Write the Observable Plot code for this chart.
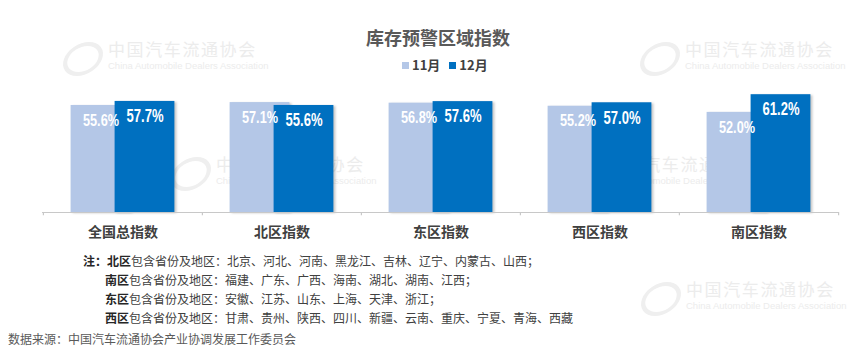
<!DOCTYPE html>
<html>
<head>
<meta charset="utf-8">
<script src="https://cdn.jsdelivr.net/npm/d3@7"></script>
<script src="https://cdn.jsdelivr.net/npm/@observablehq/plot@0.6"></script>
<style>
  html, body { margin: 0; padding: 0; background: #fff; }
  body { width: 865px; height: 354px; position: relative; overflow: hidden;
         font-family: "Noto Sans CJK SC", "Noto Sans", sans-serif; }
  .wm { position: absolute; color: #ececec; pointer-events: none; z-index: 0; }
  .wm .cn { font-size: 17px; letter-spacing: 1.6px; line-height: 18px; white-space: nowrap; }
  .wm .en { font-family: "Liberation Sans", Arial, sans-serif; font-size: 9.5px; line-height: 11px; margin-top: 2px; white-space: nowrap; }
  .wm .logo { position: absolute; left: -44px; top: 2px; width: 30px; height: 26px; border: 4px solid #efefef;
              border-radius: 50%; transform: skewX(-20deg); }
  #title { position: absolute; left: 0; width: 876px; top: 25px; text-align: center;
           font-size: 18px; font-weight: bold; color: #595959; z-index: 2; line-height: 24px; }
  #legend { position: absolute; left: 402px; top: 56px; font-size: 13px; font-weight: bold; color: #404040;
            z-index: 2; line-height: 18px; white-space: nowrap; }
  #legend .sw { display: inline-block; width: 7px; height: 7px; margin-right: 3px; vertical-align: 1px; }
  #chart { position: absolute; left: 0; top: 80px; z-index: 1; }
  .note { position: absolute; font-size: 12px; color: #404040; white-space: nowrap; line-height: 16px; z-index: 2; }
  .note b { color: #262626; }
  #source { position: absolute; left: 8px; top: 331px; font-size: 12px; color: #595959; white-space: nowrap; line-height: 16px; }
</style>
</head>
<body>
<div class="wm" style="left:108px;top:40px"><div class="logo"></div><div class="cn">中国汽车流通协会</div><div class="en">China Automobile Dealers Association</div></div>
<div class="wm" style="left:685px;top:40px"><div class="logo"></div><div class="cn">中国汽车流通协会</div><div class="en">China Automobile Dealers Association</div></div>
<div class="wm" style="left:216px;top:155px"><div class="logo"></div><div class="cn">中国汽车流通协会</div><div class="en">China Automobile Dealers Association</div></div>
<div class="wm" style="left:606px;top:155px"><div class="logo"></div><div class="cn">中国汽车流通协会</div><div class="en">China Automobile Dealers Association</div></div>
<div class="wm" style="left:686px;top:280px"><div class="logo"></div><div class="cn">中国汽车流通协会</div><div class="en">China Automobile Dealers Association</div></div>

<div id="title"></div>
<div id="legend"></div>
<div id="chart"></div>
<div id="notes"></div>
<div id="source"></div>

<script>
// ---- data ----
const title = "库存预警区域指数";
const seriesNames = ["11月", "12月"];
const categories = ["全国总指数", "北区指数", "东区指数", "西区指数", "南区指数"];
const nov = [55.6, 57.1, 56.8, 55.2, 52.0];
const dec = [57.7, 55.6, 57.6, 57.0, 61.2];
const noteRegions = ["北区", "南区", "东区", "西区"];
const noteProvinces = [
  "北京、河北、河南、黑龙江、吉林、辽宁、内蒙古、山西；",
  "福建、广东、广西、海南、湖北、湖南、江西；",
  "安徽、江苏、山东、上海、天津、浙江；",
  "甘肃、贵州、陕西、四川、新疆、云南、重庆、宁夏、青海、西藏"
];
const sourceText = "数据来源：中国汽车流通协会产业协调发展工作委员会";

// ---- styles ----
const colors = ["#B4C7E7", "#0070C0"];
const W = 865, H = 170;
const mL = 42, mR = 27, mT = 0, mB = 38;
const bw = (W - mL - mR) / categories.length;
const barW = 60, off = 22;

const rowsNov = categories.map((c, i) => ({cat: c, v: nov[i]}));
const rowsDec = categories.map((c, i) => ({cat: c, v: dec[i]}));

document.getElementById("title").textContent = title;
document.getElementById("legend").innerHTML = seriesNames.map((s, i) =>
  `<span class="sw" style="background:${colors[i]}"></span><span style="margin-right:${i ? 0 : 9}px">${s}</span>`).join("");

const fmt = v => v.toFixed(1) + "%";
const labelFont = {fontFamily: "'Liberation Sans', Arial, sans-serif", fontWeight: "bold", fill: "white", stroke: "none"};

const chart = Plot.plot({
  width: W, height: H,
  marginLeft: mL, marginRight: mR, marginTop: mT, marginBottom: mB,
  style: {background: "transparent", overflow: "visible"},
  x: {domain: categories, padding: 0, label: null},
  y: {domain: [0, (H - mT - mB) / 1.925], axis: null},
  marks: [
    Plot.barY(rowsNov, {x: "cat", y: "v", fill: colors[0],
      insetLeft: bw / 2 - off - barW / 2, insetRight: bw / 2 + off - barW / 2}),
    Plot.barY(rowsDec, {x: "cat", y: "v", fill: colors[1],
      insetLeft: bw / 2 + off - barW / 2, insetRight: bw / 2 - off - barW / 2}),
    Plot.text(rowsNov, {x: "cat", y: "v", text: d => fmt(d.v), dx: -off, dy: 15, fontSize: 16, ...labelFont}),
    Plot.text(rowsDec, {x: "cat", y: "v", text: d => fmt(d.v), dx: off, dy: 15, fontSize: 18, ...labelFont}),
    Plot.ruleY([0], {stroke: "#c8c8c8", strokeWidth: 1.2}),
    Plot.ruleX(categories, {x: d => d, y1: 0, y2: -1.7, dx: -bw / 2, stroke: "#c8c8c8", strokeWidth: 1.2}),
    Plot.ruleX(categories.slice(-1), {x: d => d, y1: 0, y2: -1.7, dx: bw / 2, stroke: "#c8c8c8", strokeWidth: 1.2}),
    Plot.axisX({tickSize: 0, tickPadding: 15, fontSize: 14, fontWeight: "bold", fill: "#404040",
      fontFamily: "'Noto Sans CJK SC', sans-serif", label: null})
  ]
});
document.getElementById("chart").appendChild(chart);
const sv = d3.select(chart);
sv.selectAll("g[aria-label=bar]").style("filter", "drop-shadow(2px 1px 1px rgba(0,0,0,0.22))");
// condense the white value labels (narrow bold face of the original)
sv.selectAll("g[aria-label=text]").each(function (_, gi) {
  d3.select(this).selectAll("text")
    .attr("textLength", gi === 0 ? 36 : 37)
    .attr("lengthAdjust", "spacingAndGlyphs");
});

// ---- notes ----
const notes = document.getElementById("notes");
const noteTops = [253, 272, 291, 310];
noteRegions.forEach((r, i) => {
  const d = document.createElement("div");
  d.className = "note";
  d.style.top = noteTops[i] + "px";
  d.style.left = (i === 0 ? 83 : 105) + "px";
  d.innerHTML = (i === 0 ? "<b>注：</b>" : "") + `<b>${r}</b>包含省份及地区：` + noteProvinces[i];
  notes.appendChild(d);
});
document.getElementById("source").textContent = sourceText;
</script>
</body>
</html>
